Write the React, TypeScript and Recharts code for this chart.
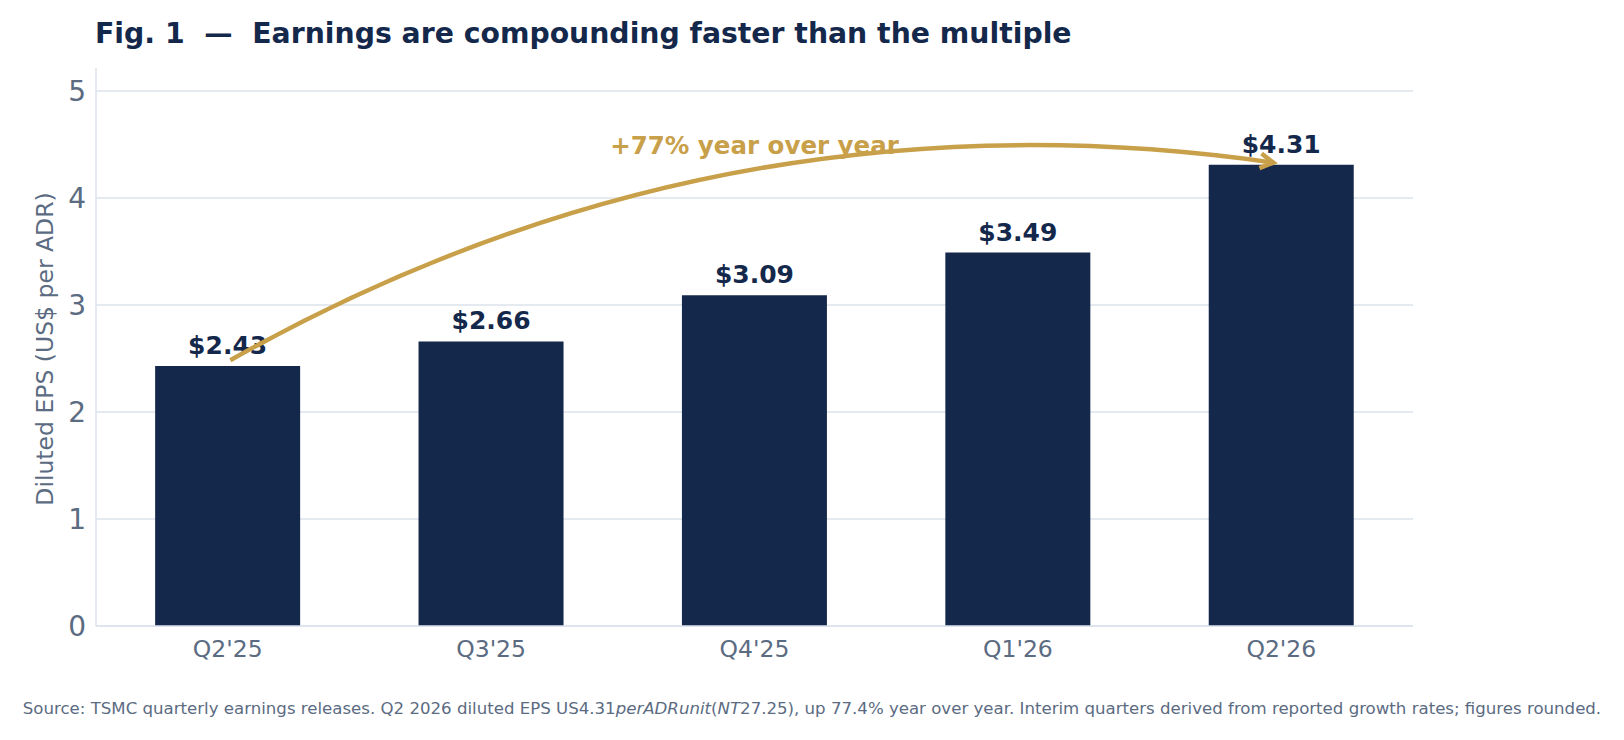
import {
  Bar,
  BarChart,
  CartesianGrid,
  LabelList,
  ReferenceDot,
  ReferenceLine,
  XAxis,
  YAxis,
} from "recharts";

const quarters = ["Q2'25", "Q3'25", "Q4'25", "Q1'26", "Q2'26"];
const eps = [2.43, 2.66, 3.09, 3.49, 4.31];
const yTicks = [0, 1, 2, 3, 4, 5];
const yMax = 5.215;

const rows = quarters.map((q, i) => ({ quarter: q, eps: eps[i] }));

const NAVY = "#14284b";
const GOLD = "#c9a04a";
const GREY = "#5b6b82";
const RULE = "#dde3ec";
const FONT = "'DejaVu Sans', sans-serif";

// arc3 風の曲線矢印: 弦の中点から垂直方向に制御点をずらした二次ベジェ
function CurvedArrow(props: any) {
  const { x1, y1, x2, y2 } = props;
  const rad = 0.17;
  const dx = x2 - x1;
  const dy = y2 - y1;
  const cx = (x1 + x2) / 2 + rad * dy;
  const cy = (y1 + y2) / 2 - rad * dx;

  // 両端を少し縮める
  const shrink = (px: number, py: number, tx: number, ty: number, d: number) => {
    const len = Math.hypot(tx - px, ty - py);
    return [px + ((tx - px) / len) * d, py + ((ty - py) / len) * d];
  };
  const [sx, sy] = shrink(x1, y1, cx, cy, 3);
  const [ex, ey] = shrink(x2, y2, cx, cy, 8);

  // 先端の向き
  const ang = Math.atan2(ey - cy, ex - cx);
  const hl = 15;
  const spread = 0.52;
  const a1x = ex - hl * Math.cos(ang - spread);
  const a1y = ey - hl * Math.sin(ang - spread);
  const a2x = ex - hl * Math.cos(ang + spread);
  const a2y = ey - hl * Math.sin(ang + spread);

  return (
    <g>
      <path
        d={`M${sx},${sy} Q${cx},${cy} ${ex},${ey}`}
        fill="none"
        stroke={GOLD}
        strokeWidth={4.5}
      />
      <path
        d={`M${a1x},${a1y} L${ex},${ey} L${a2x},${a2y}`}
        fill="none"
        stroke={GOLD}
        strokeWidth={4.5}
        strokeLinejoin="miter"
      />
    </g>
  );
}

function GrowthNote(props: any) {
  const { cx, cy } = props;
  return (
    <text
      x={cx}
      y={cy}
      dy={9}
      textAnchor="middle"
      fill={GOLD}
      fontFamily={FONT}
      fontWeight="bold"
      fontSize={24.5}
    >
      +77% year over year
    </text>
  );
}

function YLabel(props: any) {
  const { viewBox } = props;
  const x = viewBox.x + 43.5;
  const y = viewBox.y + viewBox.height / 2 + 2;
  return (
    <text
      x={x}
      y={y}
      transform={`rotate(-90 ${x} ${y})`}
      textAnchor="middle"
      dominantBaseline="central"
      fill={GREY}
      fontFamily={FONT}
      fontSize={23.5}
    >
      Diluted EPS (US$ per ADR)
    </text>
  );
}

// 目盛り位置だけに横線を引く (上端の枠線は出さない)
const gridRows = ({ offset }: any) =>
  yTicks.map((t) => offset.top + offset.height * (1 - t / yMax));

export default function App() {
  return (
    <div style={{ position: "absolute", left: 0, top: 0, width: 1624, height: 740, background: "#fff" }}>
      <BarChart
        width={1624}
        height={740}
        data={rows}
        margin={{ top: 68, right: 211, bottom: 0, left: 1 }}
        barCategoryGap="22.45%"
      >
        <CartesianGrid
          vertical={false}
          stroke={RULE}
          strokeWidth={1.5}
          horizontalCoordinatesGenerator={gridRows}
        />
        <XAxis
          dataKey="quarter"
          height={114}
          tickSize={0}
          tickMargin={14}
          axisLine={{ stroke: RULE, strokeWidth: 1.5 }}
          tick={{ fill: GREY, fontSize: 23.5, fontFamily: FONT }}
        />
        <YAxis
          width={95}
          domain={[0, yMax]}
          ticks={yTicks}
          tickSize={0}
          tickMargin={10}
          axisLine={{ stroke: RULE, strokeWidth: 1.5 }}
          tick={{ fill: GREY, fontSize: 28, fontFamily: FONT }}
          label={<YLabel />}
        />
        <Bar dataKey="eps" fill={NAVY} isAnimationActive={false}>
          <LabelList
            dataKey="eps"
            position="top"
            offset={12}
            formatter={(v: any) => `$${Number(v).toFixed(2)}`}
            fill={NAVY}
            fontSize={25}
            fontWeight="bold"
            fontFamily={FONT}
          />
        </Bar>
        <ReferenceDot
          x="Q4'25"
          y={4.5}
          r={0}
          ifOverflow="visible"
          shape={<GrowthNote />}
        />
        <ReferenceLine
          segment={[
            { x: "Q2'25", y: 2.47 },
            { x: "Q2'26", y: 4.32 },
          ]}
          ifOverflow="visible"
          zIndex={2100}
          shape={<CurvedArrow />}
        />
      </BarChart>
      <svg
        width={1624}
        height={740}
        style={{ position: "absolute", left: 0, top: 0, pointerEvents: "none" }}
      >
        <text x={95} y={43} fill={NAVY} fontFamily={FONT} fontWeight="bold" fontSize={28.3} xmlSpace="preserve">
          Fig. 1  —  Earnings are compounding faster than the multiple
        </text>
        <text x={812} y={714} textAnchor="middle" fill={GREY} fontFamily={FONT} fontSize={16.6}>
          Source: TSMC quarterly earnings releases. Q2 2026 diluted EPS US4.31
          <tspan fontStyle="italic">perADRunit</tspan>(<tspan fontStyle="italic">NT</tspan>27.25), up 77.4% year
          over year. Interim quarters derived from reported growth rates; figures rounded.
        </text>
      </svg>
    </div>
  );
}
